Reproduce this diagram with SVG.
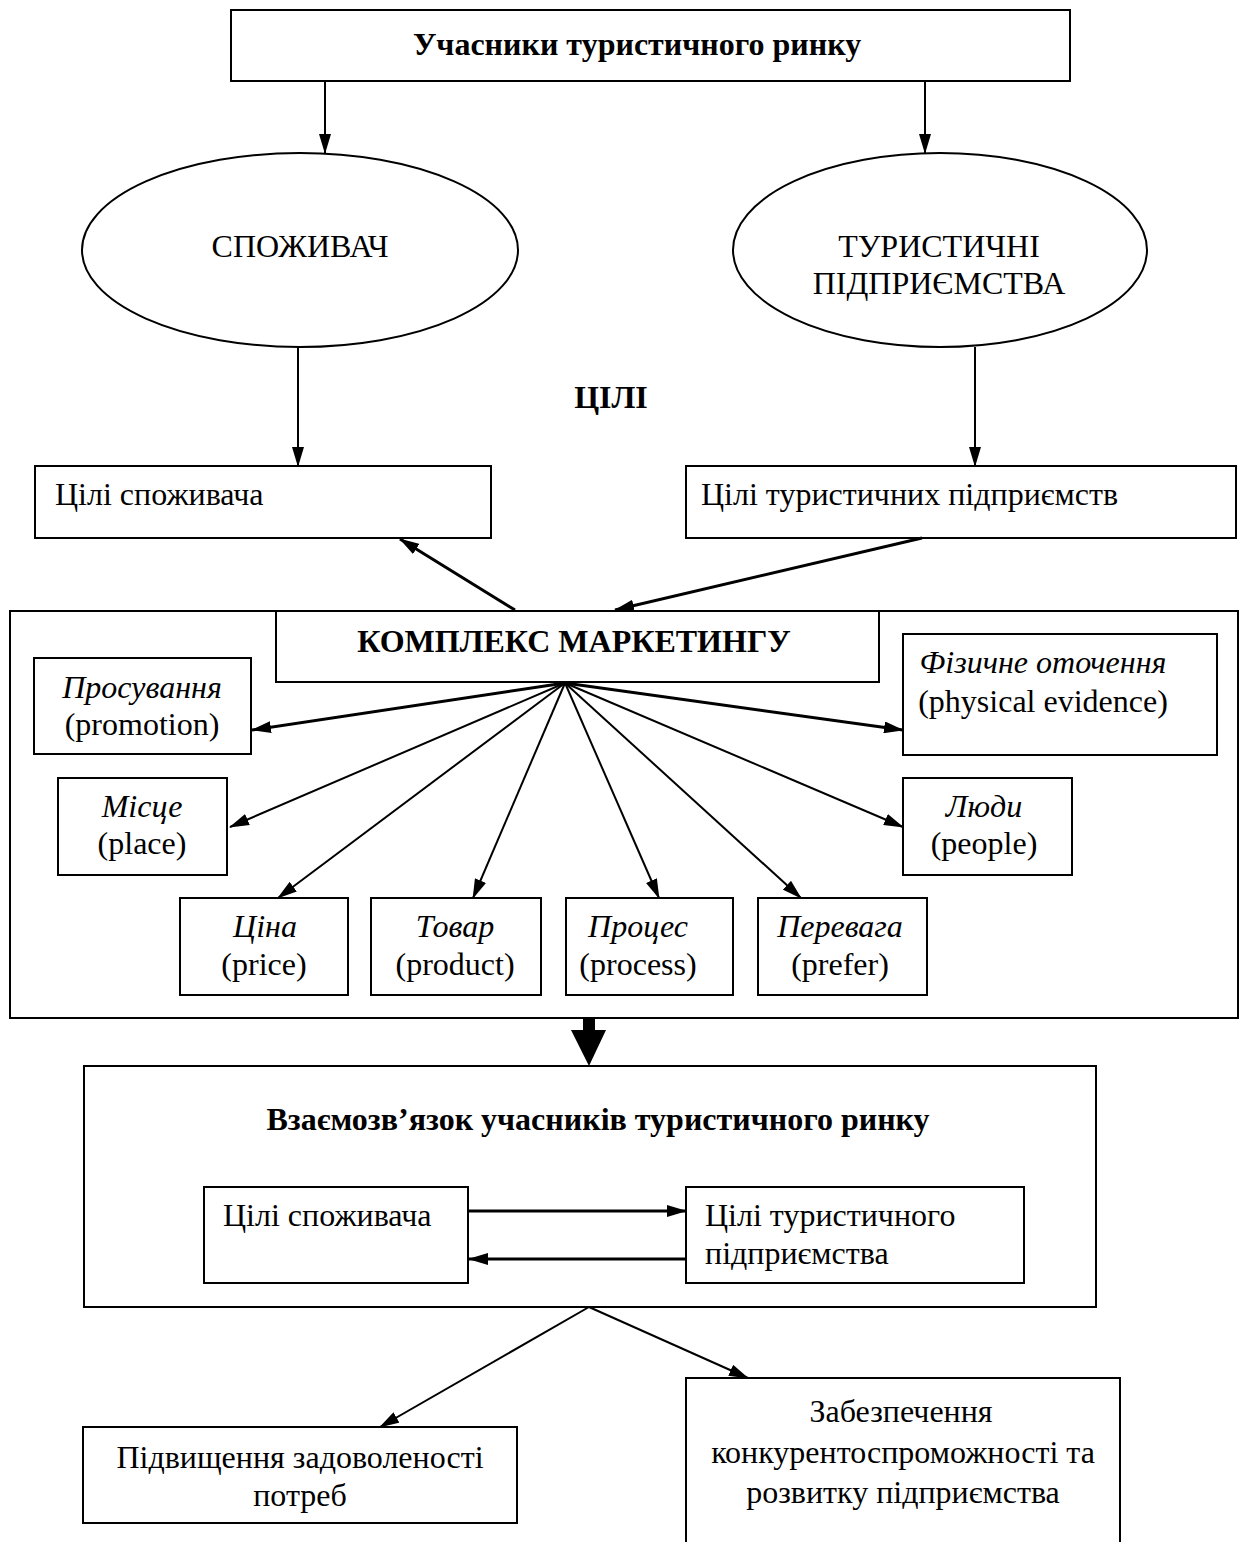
<svg xmlns="http://www.w3.org/2000/svg" width="1241" height="1542" viewBox="0 0 1241 1542">
<style>
.b{fill:#fff;stroke:#000;stroke-width:2}
.t{font-family:"Liberation Serif","Times New Roman",serif;font-size:32px;fill:#000}
.bd{font-weight:bold}
.it{font-style:italic}
.c{text-anchor:middle}
.ln{stroke:#000;stroke-width:2;fill:none;marker-end:url(#ah)}
.lt{stroke:#000;stroke-width:3;fill:none;marker-end:url(#ah)}
</style>
<defs>
<marker id="ah" markerWidth="20" markerHeight="12" refX="19" refY="6" orient="auto" markerUnits="userSpaceOnUse">
<path d="M0,0 L20,6 L0,12 Z" fill="#000"/>
</marker>
</defs>
<rect width="1241" height="1542" fill="#fff"/>
<g id="n-top"><rect class="b" x="231" y="10" width="839" height="71"/><text class="t bd c" x="637" y="55">Учасники туристичного ринку</text></g>
<g id="n-consumer"><ellipse class="b" cx="300" cy="250" rx="218" ry="97"/><text class="t c" x="300" y="257">СПОЖИВАЧ</text></g>
<g id="n-enterprises"><ellipse class="b" cx="940" cy="250" rx="207" ry="97"/><text class="t c" x="939" y="257">ТУРИСТИЧНІ</text><text class="t c" x="939" y="294">ПІДПРИЄМСТВА</text></g>
<g id="n-goals-label"><text class="t bd c" x="611" y="408">ЦІЛІ</text></g>
<g id="n-goals-consumer"><rect class="b" x="35" y="466" width="456" height="72"/><text class="t" x="55" y="505">Цілі споживача</text></g>
<g id="n-goals-enterprises"><rect class="b" x="686" y="466" width="550" height="72"/><text class="t" x="701" y="505">Цілі туристичних підприємств</text></g>
<g id="n-mix-frame"><rect class="b" x="10" y="611" width="1228" height="407"/></g>
<g id="n-mix"><rect class="b" x="276" y="611" width="603" height="71"/><text class="t bd c" x="574" y="652">КОМПЛЕКС МАРКЕТИНГУ</text></g>
<g id="n-promotion"><rect class="b" x="34" y="658" width="217" height="96"/><text class="t it c" x="142" y="698">Просування</text><text class="t c" x="142" y="735">(promotion)</text></g>
<g id="n-physical"><rect class="b" x="903" y="634" width="314" height="121"/><text class="t it c" x="1043" y="673">Фізичне оточення</text><text class="t c" x="1043" y="712">(physical evidence)</text></g>
<g id="n-place"><rect class="b" x="58" y="778" width="169" height="97"/><text class="t it c" x="142" y="817">Місце</text><text class="t c" x="142" y="854">(place)</text></g>
<g id="n-people"><rect class="b" x="903" y="778" width="169" height="97"/><text class="t it c" x="984" y="817">Люди</text><text class="t c" x="984" y="854">(people)</text></g>
<g id="n-price"><rect class="b" x="180" y="898" width="168" height="97"/><text class="t it c" x="265" y="937">Ціна</text><text class="t c" x="264" y="975">(price)</text></g>
<g id="n-product"><rect class="b" x="371" y="898" width="170" height="97"/><text class="t it c" x="455" y="937">Товар</text><text class="t c" x="455" y="975">(product)</text></g>
<g id="n-process"><rect class="b" x="566" y="898" width="167" height="97"/><text class="t it c" x="638" y="937">Процес</text><text class="t c" x="638" y="975">(process)</text></g>
<g id="n-prefer"><rect class="b" x="758" y="898" width="169" height="97"/><text class="t it c" x="840" y="937">Перевага</text><text class="t c" x="840" y="975">(prefer)</text></g>
<g id="n-relation"><rect class="b" x="84" y="1066" width="1012" height="241"/><text class="t bd c" x="598" y="1130">Взаємозв’язок учасників туристичного ринку</text></g>
<g id="n-rel-consumer"><rect class="b" x="204" y="1187" width="264" height="96"/><text class="t" x="223" y="1226">Цілі споживача</text></g>
<g id="n-rel-enterprise"><rect class="b" x="686" y="1187" width="338" height="96"/><text class="t" x="705" y="1226">Цілі туристичного</text><text class="t" x="705" y="1264">підприємства</text></g>
<g id="n-satisfaction"><rect class="b" x="83" y="1427" width="434" height="96"/><text class="t c" x="300" y="1468">Підвищення задоволеності</text><text class="t c" x="300" y="1506">потреб</text></g>
<g id="n-competitiveness"><path class="b" d="M686,1560 V1378 H1120 V1560"/><text class="t c" x="901" y="1422">Забезпечення</text><text class="t c" x="903" y="1463">конкурентоспроможності та</text><text class="t c" x="903" y="1503">розвитку підприємства</text></g>
<g id="connectors">
<line class="ln" x1="325" y1="81" x2="325" y2="153"/>
<line class="ln" x1="925" y1="81" x2="925" y2="153"/>
<line class="ln" x1="298" y1="347" x2="298" y2="466"/>
<line class="ln" x1="975" y1="347" x2="975" y2="466"/>
<line class="lt" x1="515" y1="610" x2="400" y2="539"/>
<line class="lt" x1="922" y1="538" x2="615" y2="610"/>
<line class="lt" x1="565" y1="683" x2="252" y2="730"/>
<line class="lt" x1="565" y1="683" x2="903" y2="730"/>
<line class="ln" x1="565" y1="683" x2="230" y2="827"/>
<line class="ln" x1="565" y1="683" x2="903" y2="827"/>
<line class="ln" x1="565" y1="683" x2="278" y2="898"/>
<line class="ln" x1="565" y1="683" x2="473" y2="898"/>
<line class="ln" x1="565" y1="683" x2="659" y2="898"/>
<line class="ln" x1="565" y1="683" x2="801" y2="898"/>
<path d="M583,1018 H595 V1030 H606 L589,1066 L571,1030 H583 Z" fill="#000"/>
<line class="lt" x1="468" y1="1211" x2="686" y2="1211"/>
<line class="lt" x1="686" y1="1259" x2="469" y2="1259"/>
<line class="ln" x1="589" y1="1307" x2="380" y2="1427"/>
<line class="ln" x1="589" y1="1307" x2="748" y2="1378"/>
</g>
</svg>
